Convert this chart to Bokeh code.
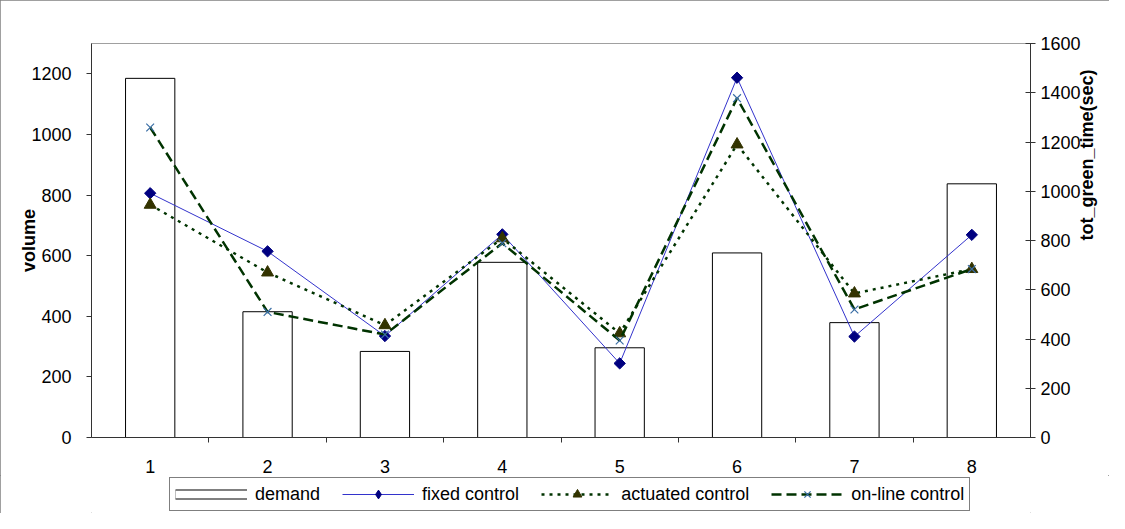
import math
from bokeh.plotting import figure
from bokeh.layouts import column
from bokeh.models import Range1d, LinearAxis, FixedTicker, Legend, LegendItem, ColumnDataSource
from bokeh.embed import file_html
from bokeh.resources import INLINE

# ---- data ----
categories = [1, 2, 3, 4, 5, 6, 7, 8]
demand = [1185, 415, 284, 578, 296, 609, 379, 837]
fixed_control = [992, 756, 412, 825, 301, 1461, 410, 823]
actuated_control = [945, 670, 456, 809, 423, 1190, 585, 684]
online_control = [1259, 510, 418, 789, 394, 1378, 520, 684]
left_ticks = [0, 200, 400, 600, 800, 1000, 1200]
right_ticks = [0, 200, 400, 600, 800, 1000, 1200, 1400, 1600]

FONT = "Liberation Sans"
W = 1109
NAN = [float("nan")]

# styles
FIXED_LINE = dict(line_color="#3333CC", line_width=1)
FIXED_MARK = dict(marker="square", angle=math.pi / 4, size=8, fill_color="#000080", line_color="#000080")
FIXED_LEG_MARK = dict(marker="diamond", size=12, fill_color="#000080", line_color="#000080")
ACT_LINE = dict(line_color="#003300", line_width=2.5, line_dash="3 5")
ACT_MARK = dict(marker="triangle", size=12, fill_color="#333300", line_color="#333300")
ONL_LINE = dict(line_color="#003300", line_width=2.5, line_dash="10 5")
ONL_MARK = dict(marker="x", size=11, line_color="#3A6EA5", line_width=1.2)

src = ColumnDataSource(dict(x=categories, demand=demand, fixed=fixed_control,
                            act=actuated_control, onl=online_control))

p = figure(width=W, height=475, output_backend="svg", toolbar_location=None,
           x_range=Range1d(0.5, 8.5), y_range=Range1d(0, 1300),
           min_border_left=91, min_border_right=73, min_border_top=43, min_border_bottom=36,
           background_fill_color="white", border_fill_color="white")
p.extra_y_ranges = {"right": Range1d(0, 1600)}
p.grid.visible = False
p.outline_line_color = "#A0A0A0"
p.outline_line_width = 1

# bars (left axis)
p.vbar(x="x", top="demand", width=0.42, source=src, fill_color="white",
       line_color="black", line_width=1)

p.line(x="x", y="fixed", source=src, y_range_name="right", **FIXED_LINE)
p.scatter(x="x", y="fixed", source=src, y_range_name="right", **FIXED_MARK)
p.line(x="x", y="act", source=src, y_range_name="right", **ACT_LINE)
p.scatter(x="x", y="act", source=src, y_range_name="right", **ACT_MARK)
p.line(x="x", y="onl", source=src, y_range_name="right", **ONL_LINE)
p.scatter(x="x", y="onl", source=src, y_range_name="right", **ONL_MARK)

# axes
xa = p.xaxis[0]
xa.ticker = FixedTicker(ticks=categories, minor_ticks=[c + 0.5 for c in categories[:-1]])
xa.major_tick_out = 0
xa.major_tick_in = 0
xa.minor_tick_out = 5
xa.minor_tick_in = 0
xa.major_label_standoff = 17
xa.axis_line_color = "#333333"
xa.minor_tick_line_color = "#333333"

ya = p.yaxis[0]
ya.ticker = FixedTicker(ticks=left_ticks)
ya.major_tick_out = 5
ya.major_tick_in = 0
ya.minor_tick_line_color = None
ya.major_label_standoff = 15
ya.axis_label = "volume"
ya.axis_label_standoff = -11
ya.axis_line_color = "#333333"
ya.major_tick_line_color = "#333333"

yr = LinearAxis(y_range_name="right", ticker=FixedTicker(ticks=right_ticks))
yr.major_tick_out = 5
yr.major_tick_in = 5
yr.minor_tick_line_color = None
yr.major_label_standoff = 5
yr.axis_label = "tot_green_time(sec)"
yr.axis_label_standoff = 3
yr.axis_label_orientation = math.pi / 2
yr.axis_line_color = "#333333"
yr.major_tick_line_color = "#333333"
p.add_layout(yr, "right")

for ax in (xa, ya, yr):
    ax.major_label_text_font = FONT
    ax.major_label_text_font_size = "18px"
    ax.major_label_text_color = "black"
    ax.axis_label_text_font = FONT
    ax.axis_label_text_font_size = "18px"
    ax.axis_label_text_font_style = "bold"
    ax.axis_label_text_color = "black"

# ---- legend strip ----
lg = figure(width=W, height=38, output_backend="svg", toolbar_location=None,
            x_range=Range1d(0, 1), y_range=Range1d(0, 1), min_border=0,
            x_axis_location=None, y_axis_location=None,
            background_fill_color="white", border_fill_color="white")
lg.grid.visible = False
lg.outline_line_color = None

d1 = lg.line(x=NAN, y=NAN, line_color="black", line_width=10)
d2 = lg.line(x=NAN, y=NAN, line_color="white", line_width=8)
l1 = lg.line(x=NAN, y=NAN, **FIXED_LINE)
m1 = lg.scatter(x=NAN, y=NAN, **FIXED_LEG_MARK)
l2 = lg.line(x=NAN, y=NAN, **ACT_LINE)
m2 = lg.scatter(x=NAN, y=NAN, **ACT_MARK)
l3 = lg.line(x=NAN, y=NAN, **ONL_LINE)
m3 = lg.scatter(x=NAN, y=NAN, **ONL_MARK)

legend = Legend(items=[
    LegendItem(label="demand", renderers=[d1, d2]),
    LegendItem(label="fixed control", renderers=[l1, m1]),
    LegendItem(label="actuated control", renderers=[l2, m2]),
    LegendItem(label="on-line control", renderers=[l3, m3]),
], orientation="horizontal", location=(78, 2))
legend.glyph_width = 72
legend.glyph_height = 22
legend.label_height = 22
legend.label_standoff = 8
legend.spacing = 22
legend.padding = 5
legend.margin = 0
legend.label_text_font = FONT
legend.label_text_font_size = "18px"
legend.label_text_color = "black"
legend.border_line_color = "black"
legend.border_line_width = 1
legend.background_fill_color = "white"
legend.background_fill_alpha = 1
lg.add_layout(legend, "center")

layout = column(p, lg, spacing=0)
layout.styles = {"outline": "1px solid #808080", "outline-offset": "-1px"}

open("out.html", "w").write(file_html(layout, INLINE))
